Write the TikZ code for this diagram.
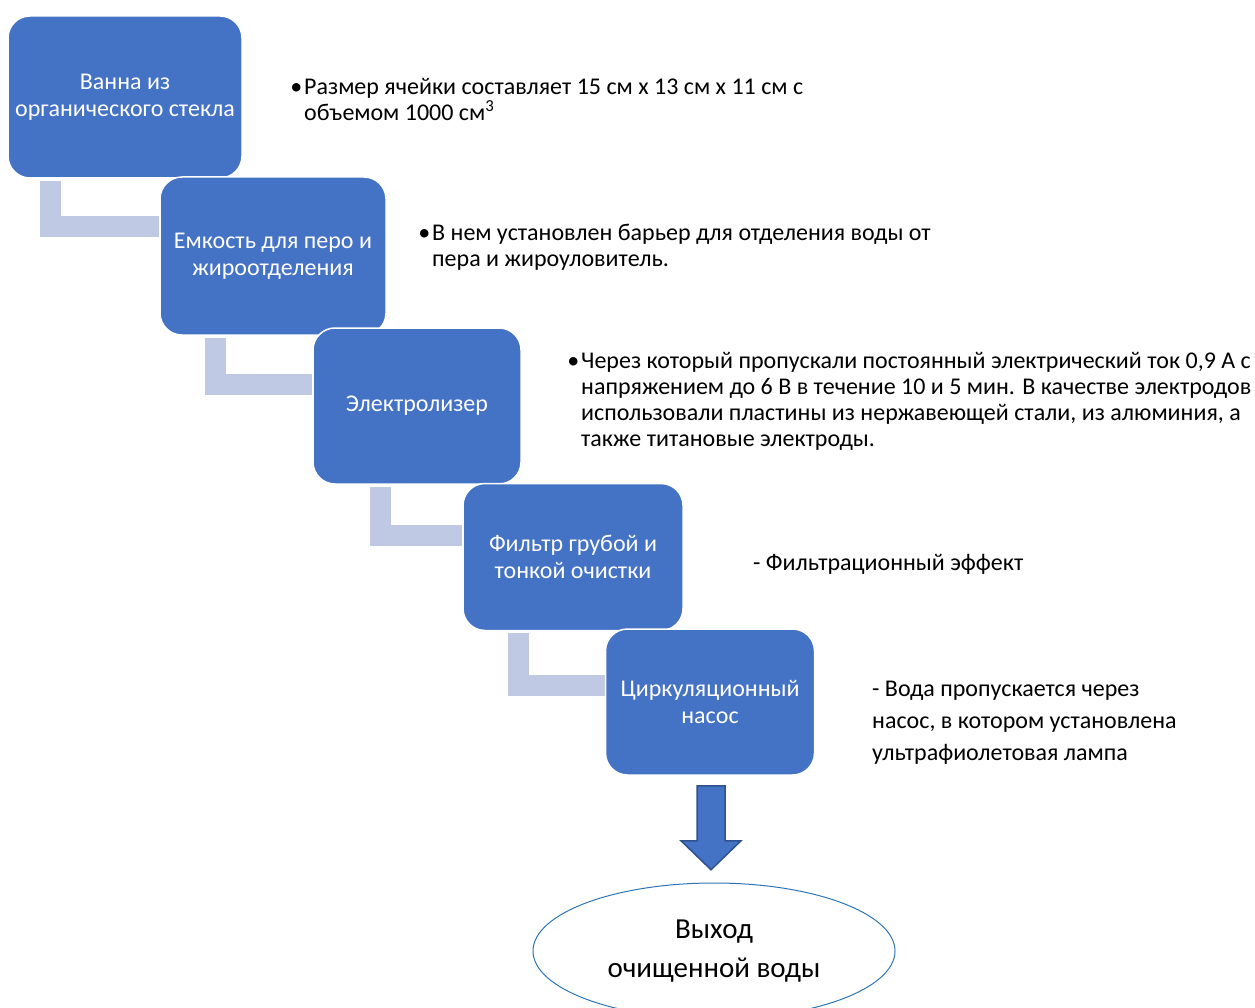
\documentclass[tikz,border=0pt]{standalone}
\usepackage{fontspec}
\setmainfont{Carlito}
\usetikzlibrary{positioning}
\usetikzlibrary{calc}
\usetikzlibrary{shapes.geometric}
\usetikzlibrary{backgrounds}

\definecolor{boxblue}{HTML}{4472C4}
\definecolor{linkgray}{HTML}{C0C9E4}
\definecolor{arrowedge}{HTML}{2F528F}
\definecolor{ovalblue}{HTML}{2E75B6}

\tikzset{
  stage/.style={rectangle, rounded corners=22pt, fill=boxblue, draw=white, line width=1.5pt,
    text=white, align=center, font=\fontsize{24}{27}\selectfont},
  link/.style={draw=linkgray, line width=21pt},
  note/.style={anchor=north west, align=left, inner sep=0pt, font=\fontsize{24}{26}\selectfont},
}

\begin{document}
\begin{tikzpicture}[x=1pt, y=-1pt]
	\useasboundingbox (0,0) rectangle (1255,1008);

	% the five stages, top left to bottom right
	\foreach \i/\cx/\cy/\w/\h/\txt in {
			1/125/97/234/162/{Ванна из\\органического стекла},
			2/273/256/226/158/{Емкость для перо и\\жироотделения},
			3/417/406/208/156/{Электролизер},
			4/573/557/220/147/{Фильтр грубой и\\тонкой очистки},
			5/710/702/209/146/{Циркуляционный\\насос}}
		{\node[stage, minimum width=\w pt, minimum height=\h pt] (s\i) at (\cx,\cy) {\txt};}

	% elbow links behind the stages
	\begin{scope}[on background layer]
		\foreach \a/\b/\dx/\dy in {1/2/43/50, 2/3/56/57, 3/4/68/53, 4/5/56/57}
			{\draw[link] ($(s\a.south west)+(\dx,2)$) |- ($(s\b.north west)+(0,\dy)$);}
	\end{scope}

	% notes
	\node[note] (n1) at (304,78) {\llap{•\hspace{2pt}}Размер ячейки составляет 15 см х 13 см х 11 см с\\объемом 1000 см\textsuperscript{3}};
	\node[note] (n2) at (432,224) {\llap{•\hspace{2pt}}В нем установлен барьер для отделения воды от\\пера и жироуловитель.};
	\node[note] (n3) at (581,352) {\llap{•\hspace{2pt}}Через который пропускали постоянный электрический ток 0,9 А с\\напряжением до 6 В в течение 10 и 5 мин. В качестве электродов\\использовали пластины из нержавеющей стали, из алюминия, а\\также титановые электроды.};
	\node[note] (n4) at (753,554) {- Фильтрационный эффект};
	\node[note, font=\fontsize{24}{32}\selectfont] (n5) at (872,681) {- Вода пропускается через\\насос, в котором установлена\\ультрафиолетовая лампа};

	% block arrow down to the outlet
	\coordinate (a0) at ($(s5.south)+(1,10)$);
	\draw[fill=boxblue, draw=arrowedge, line width=1.5pt] ($(a0)+(-14,0)$) -- ($(a0)+(14,0)$) -- ($(a0)+(14,55)$)
		-- ($(a0)+(30,55)$) -- ($(a0)+(0,84)$) -- ($(a0)+(-30,55)$) -- ($(a0)+(-14,55)$) -- cycle;

	\node[ellipse, draw=ovalblue, line width=1pt, minimum width=362pt, minimum height=136pt,
		align=center, font=\fontsize{29}{39}\selectfont] (out) at (714,951) {Выход\\очищенной воды};
\end{tikzpicture}
\end{document}
